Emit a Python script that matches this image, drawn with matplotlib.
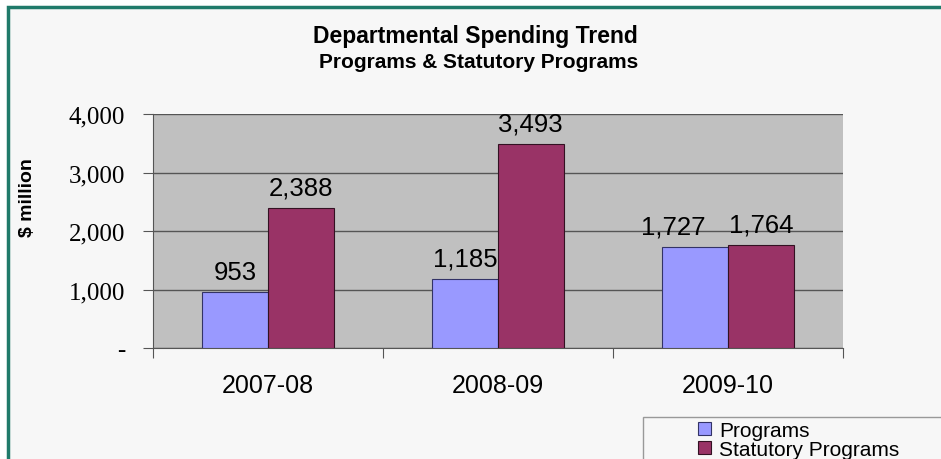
import numpy as np
import matplotlib.pyplot as plt
from matplotlib.patches import Rectangle

years = ['2007-08', '2008-09', '2009-10']
programs = [953, 1185, 1727]
statutory = [2388, 3493, 1764]
labels = ['Programs', 'Statutory Programs']
yticks = [0, 1000, 2000, 3000, 4000]
ytick_labels = ['-', '1,000', '2,000', '3,000', '4,000']

fig = plt.figure(figsize=(9.41, 4.60), dpi=100)
fig.patch.set_facecolor('white')

# outer frame of the chart area
fig.patches.append(Rectangle((8 / 941, -0.1), 1.0, 1 - 8 / 460 + 0.1,
                             transform=fig.transFigure, facecolor='#f7f7f7',
                             edgecolor='#1f7a6a', linewidth=2.5, zorder=-2))

ax = fig.add_axes([153 / 941, 1 - 349 / 460, 690 / 941, 234 / 460])
ax.set_zorder(2)
ax.set_facecolor('#c0c0c0')

x = np.arange(len(years))
w = 0.285
b1 = ax.bar(x - w / 2, programs, w, color='#9999ff', edgecolor='#333366',
            linewidth=0.8, label=labels[0], zorder=3)
b2 = ax.bar(x + w / 2, statutory, w, color='#993366', edgecolor='#331122',
            linewidth=0.8, label=labels[1], zorder=3)

# value labels; the last Programs label is nudged left as in the original
shifts = [[0, 0, -16], [0, 0, 0]]
for bars, vals, dx in [(b1, programs, shifts[0]), (b2, statutory, shifts[1])]:
    for rect, v, d in zip(bars, vals, dx):
        ax.annotate(f'{v:,}', (rect.get_x() + rect.get_width() / 2, v),
                    xytext=(d, 6), textcoords='offset points', ha='center',
                    va='bottom', fontsize=18.5, family='Liberation Sans')

ax.set_xlim(-0.5, 2.5)
ax.set_ylim(0, 4000)
ax.set_yticks(yticks)
ax.set_yticklabels(ytick_labels, family='Liberation Serif', fontsize=18)
ax.yaxis.grid(True, color='#555555', linewidth=1, zorder=1)
ax.set_axisbelow(True)

ax.set_xticks([-0.5, 0.5, 1.5, 2.5])
ax.set_xticklabels([])
ax.set_xticks(x, minor=True)
ax.set_xticklabels(years, minor=True, family='Liberation Sans', fontsize=18)
ax.tick_params(axis='x', which='minor', length=0, pad=18)
ax.tick_params(axis='x', which='major', length=7, color='#555555')
ax.tick_params(axis='y', length=7, color='#555555', pad=13)

for s in ['top', 'right']:
    ax.spines[s].set_visible(False)
for s in ['left', 'bottom']:
    ax.spines[s].set_color('#555555')

fig.text(28 / 941, 1 - 198 / 460, '$ million', rotation=90, ha='center',
         va='center', fontsize=14, fontweight='bold', family='Liberation Sans')
fig.text(475 / 941, 1 - 36 / 460, 'Departmental Spending Trend', ha='center',
         va='center', fontsize=16.5, fontweight='bold', family='Liberation Sans')
fig.text(479 / 941, 1 - 63 / 460, 'Programs & Statutory Programs', ha='center',
         va='center', fontsize=15, fontweight='bold', family='Liberation Sans')

# legend box (cut off at the figure edge)
fig.patches.append(Rectangle((643 / 941, -0.1), 1.0, 1 - 418 / 460 + 0.1,
                             transform=fig.transFigure, facecolor='#f7f7f7',
                             edgecolor='#999999', linewidth=1, zorder=-1))
leg = fig.legend(handles=[b1, b2], labels=labels, loc='upper left',
                 bbox_to_anchor=(698 / 941, 1 - 422 / 460), frameon=False,
                 prop={'family': 'Liberation Sans', 'size': 15},
                 handlelength=0.6, handleheight=0.6, handletextpad=0.4,
                 labelspacing=0.0, borderpad=0.0, borderaxespad=0)

fig.savefig('out.png', dpi=100, facecolor=fig.get_facecolor())
